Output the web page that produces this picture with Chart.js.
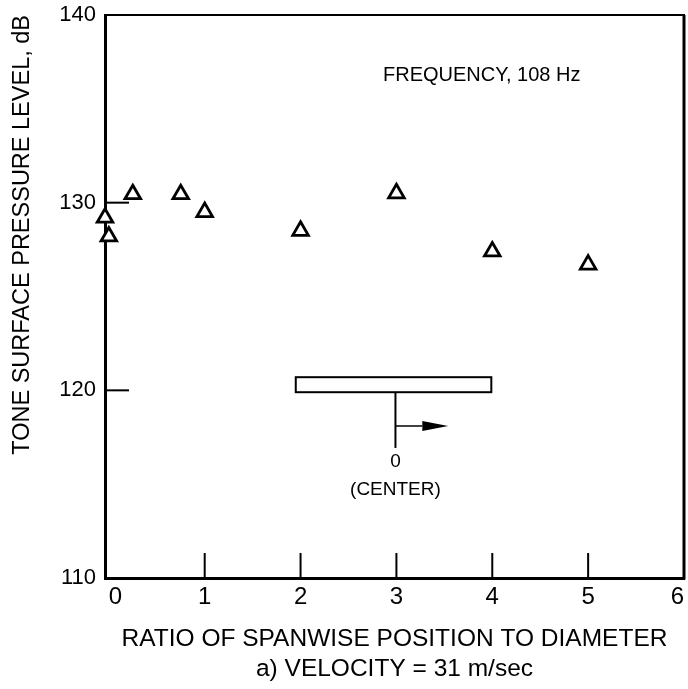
<!DOCTYPE html>
<html><head><meta charset="utf-8">
<script src="https://cdn.jsdelivr.net/npm/chart.js@4.4.0/dist/chart.umd.min.js"></script>
<style>html,body{margin:0;padding:0;background:#fff;} #wrap{width:688px;height:689px;}</style>
</head><body><div id="wrap"><canvas id="c" width="688" height="689"></canvas></div>
<script>
// ---- data ----
const positions = [-0.04, 0, 0.25, 0.75, 1, 2, 3, 4, 5];
const levels = [129.2, 128.2, 130.45, 130.45, 129.5, 128.5, 130.5, 127.4, 126.7];
const xTicks = [0, 1, 2, 3, 4, 5, 6];
const yTicks = [110, 120, 130, 140];
const xInnerTicks = [1, 2, 3, 4, 5];
const yInnerTicks = [120, 130];
const xTitle = ['RATIO OF SPANWISE POSITION TO DIAMETER', 'a) VELOCITY = 31 m/sec'];
const yTitle = 'TONE SURFACE PRESSURE LEVEL, dB';
const freqNote = 'FREQUENCY, 108 Hz';
const freqAt = [3.89, 136.8];
// inset sketch (cylinder with origin arrow), in data units
const cylSpan = [1.95, 3.99];
const cylLevels = [119.9, 120.7];
const centerX = 2.99;
const stemBottom = 116.93;
const arrowLevel = 118.1;
const arrowTip = 3.54;
const arrowHeadBase = 3.27;
const zeroLabel = '0';
const zeroLabelAt = 116.18;
const centerLabel = '(CENTER)';
const centerLabelAt = 114.7;

const FONT = '"Liberation Sans", Arial, Helvetica, sans-serif';

const decor = {
  id: 'decor',
  afterDraw(chart) {
    const {ctx, chartArea: a, scales: {x, y}} = chart;
    ctx.save();
    ctx.strokeStyle = '#000';
    ctx.fillStyle = '#000';
    // top and right frame
    ctx.lineWidth = 2;
    ctx.beginPath(); ctx.moveTo(a.left, a.top); ctx.lineTo(a.right + 1, a.top); ctx.stroke();
    ctx.lineWidth = 3;
    ctx.beginPath(); ctx.moveTo(a.right, a.top); ctx.lineTo(a.right, a.bottom + 1.5); ctx.stroke();
    // inner ticks
    ctx.lineWidth = 2;
    xInnerTicks.forEach(v => {
      const px = x.getPixelForValue(v);
      ctx.beginPath(); ctx.moveTo(px, a.bottom); ctx.lineTo(px, a.bottom - 25); ctx.stroke();
    });
    yInnerTicks.forEach(v => {
      const py = y.getPixelForValue(v);
      ctx.beginPath(); ctx.moveTo(a.left, py); ctx.lineTo(a.left + 24, py); ctx.stroke();
    });
    // frequency note
    ctx.font = '20px ' + FONT;
    ctx.textAlign = 'center';
    ctx.textBaseline = 'middle';
    ctx.fillText(freqNote, x.getPixelForValue(freqAt[0]), y.getPixelForValue(freqAt[1]));
    // inset: cylinder
    const rx0 = x.getPixelForValue(cylSpan[0]), rx1 = x.getPixelForValue(cylSpan[1]);
    const ry0 = y.getPixelForValue(cylLevels[1]), ry1 = y.getPixelForValue(cylLevels[0]);
    ctx.lineWidth = 2;
    ctx.strokeRect(rx0, ry0, rx1 - rx0, ry1 - ry0);
    // stem
    const cx = x.getPixelForValue(centerX);
    ctx.beginPath(); ctx.moveTo(cx, ry1); ctx.lineTo(cx, y.getPixelForValue(stemBottom)); ctx.stroke();
    // arrow
    const ay = y.getPixelForValue(arrowLevel);
    const tip = x.getPixelForValue(arrowTip), hb = x.getPixelForValue(arrowHeadBase);
    ctx.lineWidth = 1.5;
    ctx.beginPath(); ctx.moveTo(cx, ay); ctx.lineTo(hb, ay); ctx.stroke();
    ctx.beginPath(); ctx.moveTo(hb, ay - 5); ctx.lineTo(tip, ay); ctx.lineTo(hb, ay + 5); ctx.closePath(); ctx.fill();
    // labels
    ctx.font = '19px ' + FONT;
    ctx.fillText(zeroLabel, cx, y.getPixelForValue(zeroLabelAt));
    ctx.fillText(centerLabel, cx, y.getPixelForValue(centerLabelAt));
    ctx.restore();
  }
};

new Chart(document.getElementById('c'), {
  type: 'scatter',
  data: {
    datasets: [{
      data: positions.map((p, i) => ({x: p, y: levels[i]})),
      pointStyle: 'triangle',
      pointRadius: 9,
      pointBorderWidth: 2.8,
      pointBackgroundColor: '#fff',
      pointBorderColor: '#000',
      showLine: false,
      clip: false
    }]
  },
  options: {
    responsive: false,
    devicePixelRatio: 1,
    animation: false,
    events: [],
    layout: {autoPadding: false, padding: {top: 15, right: 4, left: 0, bottom: 0}},
    plugins: {legend: {display: false}, tooltip: {enabled: false}},
    scales: {
      x: {
        type: 'linear',
        min: -0.04, max: 6,
        afterBuildTicks: s => { s.ticks = xTicks.map(v => ({value: v})); },
        afterFit: s => { s.height = 111; s.paddingLeft = 0; s.paddingRight = 0; },
        grid: {drawOnChartArea: false, drawTicks: false},
        border: {display: true, width: 3, color: '#000'},
        ticks: {color: '#000', padding: 5, align: 'inner', font: {family: FONT, size: 24}, callback: v => String(v)},
        title: {display: true, text: xTitle, color: '#000', font: {family: FONT, size: 24.5, lineHeight: 1.22}, padding: {top: 0, bottom: 5}}
      },
      y: {
        type: 'linear',
        min: 110, max: 140,
        afterBuildTicks: s => { s.ticks = yTicks.map(v => ({value: v})); },
        afterFit: s => { s.width = 105; s.paddingTop = 0; s.paddingBottom = 0; },
        grid: {drawOnChartArea: false, drawTicks: false},
        border: {display: true, width: 3, color: '#000'},
        ticks: {color: '#000', padding: 9, font: {family: FONT, size: 22}, callback: v => String(v)},
        title: {display: true, text: yTitle, align: 'end', color: '#000', font: {family: FONT, size: 23.5, lineHeight: 1.2}, padding: {top: 8, bottom: 0}}
      }
    }
  },
  plugins: [decor]
});
</script>
</body></html>
